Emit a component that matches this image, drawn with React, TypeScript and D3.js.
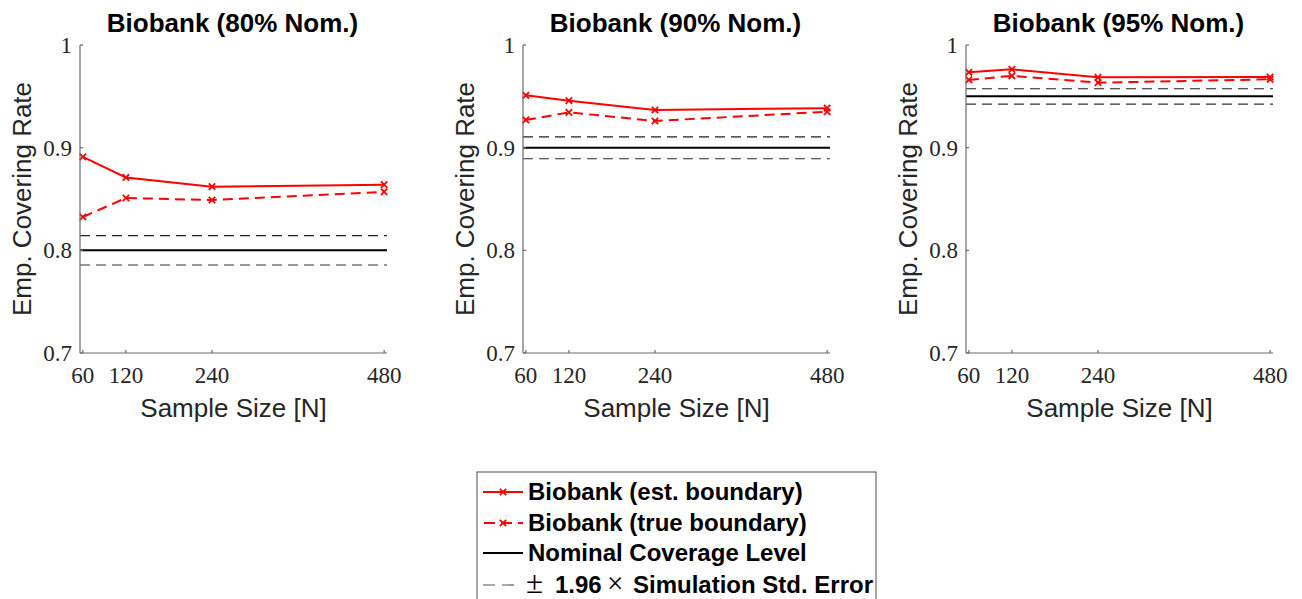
import React from "react";
import * as d3 from "d3";

const sampleSizes = [60, 120, 240, 480];
const panelTitles = ["Biobank (80% Nom.)", "Biobank (90% Nom.)", "Biobank (95% Nom.)"];
const nominalLevels = [0.8, 0.9, 0.95];
const estBoundary = [
  [0.891, 0.871, 0.862, 0.864],
  [0.951, 0.9458, 0.9367, 0.9385],
  [0.9734, 0.9763, 0.9685, 0.9688],
];
const trueBoundary = [
  [0.8325, 0.851, 0.849, 0.857],
  [0.927, 0.9344, 0.926, 0.935],
  [0.966, 0.970, 0.9633, 0.9666],
];
const seUpper = [0.8143, 0.9106, 0.9574];
const seLower = [0.7857, 0.8892, 0.9424];
const yTicks = [0.7, 0.8, 0.9, 1];
const yTickLabels = ["0.7", "0.8", "0.9", "1"];
const legendLabels = [
  "Biobank (est. boundary)",
  "Biobank (true boundary)",
  "Nominal Coverage Level",
];

const W = 1302;
const H = 599;
const RED = "#ff0000";
const TXT = "#262626";
const AX = "#6b6b6b";
const SERIF = "'Liberation Serif', 'Times New Roman', serif";
const SANS = "'Liberation Sans', Arial, Helvetica, sans-serif";

const Marker = ({ x, y }: { x: number; y: number }) => (
  <path
    d={`M${x - 3.2},${y - 3.2}L${x + 3.2},${y + 3.2}M${x - 3.2},${y + 3.2}L${x + 3.2},${y - 3.2}`}
    stroke={RED}
    strokeWidth={1.8}
    fill="none"
  />
);

function Panel({ idx }: { idx: number }) {
  const off = idx * 443;
  const x = d3.scaleLinear().domain([56, 484]).range([80 + off, 387 + off]);
  const y = d3.scaleLinear().domain([0.7, 1]).range([353, 45]);
  const line = d3
    .line<number>()
    .x((_, i) => x(sampleSizes[i]))
    .y((d) => y(d));
  const [x0, x1] = x.range();
  return (
    <g>
      <text
        x={(x0 + x1) / 2 - 1}
        y={32}
        textAnchor="middle"
        fontFamily={SANS}
        fontWeight="bold"
        fontSize={26}
        fill="#000"
      >
        {panelTitles[idx]}
      </text>
      <line x1={x0} x2={x1} y1={y(seUpper[idx])} y2={y(seUpper[idx])} stroke="#222" strokeWidth={1.2} strokeDasharray="10,6" />
      <line x1={x0} x2={x1} y1={y(seLower[idx])} y2={y(seLower[idx])} stroke="#333" strokeWidth={1.2} strokeDasharray="10,6" />
      <line x1={x0} x2={x1} y1={y(nominalLevels[idx])} y2={y(nominalLevels[idx])} stroke="#000" strokeWidth={2} />
      <path d={line(trueBoundary[idx]) || ""} fill="none" stroke={RED} strokeWidth={2} strokeDasharray="10,6" />
      <path d={line(estBoundary[idx]) || ""} fill="none" stroke={RED} strokeWidth={2} />
      {trueBoundary[idx].map((v, i) => (
        <Marker key={"t" + i} x={x(sampleSizes[i])} y={y(v)} />
      ))}
      {estBoundary[idx].map((v, i) => (
        <Marker key={"e" + i} x={x(sampleSizes[i])} y={y(v)} />
      ))}
      <line x1={x0} x2={x0} y1={y(1)} y2={y(0.7)} stroke={AX} strokeWidth={1.2} />
      <line x1={x0} x2={x1} y1={y(0.7)} y2={y(0.7)} stroke={AX} strokeWidth={1.2} />
      {yTicks.map((t, i) => (
        <g key={"y" + i}>
          <line x1={x0} x2={x0 + 3} y1={y(t)} y2={y(t)} stroke={AX} strokeWidth={1.2} />
          <text
            x={x0 - 8}
            y={y(t)}
            dy="0.35em"
            textAnchor="end"
            fontFamily={SERIF}
            fontSize={23}
            fill={TXT}
          >
            {yTickLabels[i]}
          </text>
        </g>
      ))}
      {sampleSizes.map((n, i) => (
        <g key={"x" + i}>
          <line x1={x(n)} x2={x(n)} y1={y(0.7)} y2={y(0.7) - 3} stroke={AX} strokeWidth={1.2} />
          <text
            x={x(n)}
            y={383}
            textAnchor="middle"
            fontFamily={SERIF}
            fontSize={23}
            fill={TXT}
          >
            {n}
          </text>
        </g>
      ))}
      <text
        x={(x0 + x1) / 2}
        y={417}
        textAnchor="middle"
        fontFamily={SANS}
        fontSize={26}
        fill={TXT}
      >
        Sample Size [N]
      </text>
      <text
        transform={`translate(${31 + off},${199}) rotate(-90)`}
        textAnchor="middle"
        fontFamily={SANS}
        fontSize={26}
        fill={TXT}
      >
        Emp. Covering Rate
      </text>
    </g>
  );
}

function Legend() {
  const lx = 477;
  const ly = 472;
  const rowY = [492, 523, 553, 585];
  const s0 = 483;
  const s1 = 523;
  const tx = 528;
  const fs = 24;
  const base4 = rowY[3] + 8.4;
  return (
    <g>
      <rect x={lx} y={ly} width={399} height={140} fill="#fff" stroke="#4d4d4d" strokeWidth={1} />
      <line x1={s0} x2={s1} y1={rowY[0]} y2={rowY[0]} stroke={RED} strokeWidth={2} />
      <Marker x={(s0 + s1) / 2} y={rowY[0]} />
      <line x1={s0} x2={s1} y1={rowY[1]} y2={rowY[1]} stroke={RED} strokeWidth={2} strokeDasharray="11,6" strokeDashoffset={-1} />
      <Marker x={(s0 + s1) / 2} y={rowY[1]} />
      <line x1={s0} x2={s1} y1={rowY[2]} y2={rowY[2]} stroke="#000" strokeWidth={2} />
      <line x1={s0} x2={s1 - 9} y1={rowY[3]} y2={rowY[3]} stroke="#555" strokeWidth={1.2} strokeDasharray="12,7" />
      {legendLabels.map((l, i) => (
        <text key={i} x={tx} y={rowY[i]} dy="0.35em" fontFamily={SANS} fontWeight="bold" fontSize={fs} fill="#000">
          {l}
        </text>
      ))}
      <text x={526} y={base4} fontFamily={SERIF} fontSize={31} fill="#000">±</text>
      <text x={555} y={base4} fontFamily={SANS} fontWeight="bold" fontSize={fs} fill="#000">1.96</text>
      <text x={607} y={base4} fontFamily={SERIF} fontSize={29} fill="#000">×</text>
      <text x={633} y={base4} fontFamily={SANS} fontWeight="bold" fontSize={fs} fill="#000">Simulation Std. Error</text>
    </g>
  );
}

export default function App() {
  return (
    <svg
      width={W}
      height={H}
      style={{ position: "fixed", left: 0, top: 0, background: "#fff", display: "block" }}
    >
      <rect x={0} y={0} width={W} height={H} fill="#fff" />
      {[0, 1, 2].map((i) => (
        <Panel key={i} idx={i} />
      ))}
      <Legend />
    </svg>
  );
}
